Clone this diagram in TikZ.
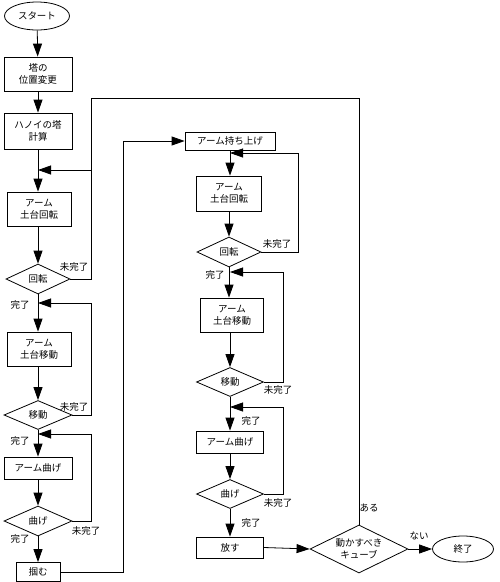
\documentclass[tikz,border=0pt]{standalone}
\usepackage{fontspec}
\setmainfont{Noto Sans CJK JP}
\usetikzlibrary{arrows.meta,shapes.geometric}
\begin{document}
\begin{tikzpicture}[x=1pt,y=1pt,
  every node/.style={font=\fontsize{9.5}{12}\selectfont},
  base/.style={draw,line width=0.8pt,inner sep=0pt,align=center},
  procbox/.style={base,rectangle},
  decision/.style={base,diamond,shape aspect=2},
  terminal/.style={base,ellipse},
  lbl/.style={inner sep=0pt},
  flow/.style={line width=0.8pt,-{Triangle[length=13pt,width=9pt]}},
  line/.style={line width=0.8pt}]
\useasboundingbox (0,0) rectangle (499,-582);
% left column
\node[terminal,minimum width=65pt,minimum height=28pt] (start) at (37,-16) {スタート};
\node[procbox,minimum width=68pt,minimum height=34pt] (b1) at (38,-74) {塔の\\位置変更};
\node[procbox,minimum width=68pt,minimum height=36pt] (b2) at (38,-131) {ハノイの塔\\計算};
\node[procbox,minimum width=64pt,minimum height=34pt] (b3) at (39,-209) {アーム\\土台回転};
\node[decision,minimum width=64pt,minimum height=30pt] (d1) at (38,-279) {回転};
\node[procbox,minimum width=64pt,minimum height=34pt] (b4) at (39,-349) {アーム\\土台移動};
\node[decision,minimum width=68pt,minimum height=29pt] (d2) at (38,-415) {移動};
\node[procbox,minimum width=68pt,minimum height=22pt] (b5) at (38,-468) {アーム曲げ};
\node[decision,minimum width=68pt,minimum height=30pt] (d3) at (38,-521) {曲げ};
\node[procbox,minimum width=44pt,minimum height=19pt] (b6) at (38,-572) {掴む};
% middle column
\node[procbox,minimum width=90pt,minimum height=18pt] (m1) at (230,-141) {アーム持ち上げ};
\node[procbox,minimum width=65pt,minimum height=35pt] (m2) at (229,-193.5) {アーム\\土台回転};
\node[decision,minimum width=64pt,minimum height=30pt] (md1) at (229,-252) {回転};
\node[procbox,minimum width=63pt,minimum height=34pt] (m3) at (232,-315) {アーム\\土台移動};
\node[decision,minimum width=67pt,minimum height=29pt] (md2) at (230,-382) {移動};
\node[procbox,minimum width=67pt,minimum height=22pt] (m4) at (230,-442) {アーム曲げ};
\node[decision,minimum width=67pt,minimum height=29pt] (md3) at (230,-494) {曲げ};
\node[procbox,minimum width=67pt,minimum height=21pt] (m5) at (230,-547.5) {放す};
% right
\node[decision,minimum width=98pt,minimum height=48pt] (dq) at (359,-549) {動かすべき\\キューブ};
\node[terminal,minimum width=61pt,minimum height=26pt] (end) at (463,-549) {終了};
% junction coordinates
\coordinate (j1) at (38,-170);
\coordinate (j2) at (38,-303);
\coordinate (j3) at (38,-434);
\coordinate (k1) at (230,-153);
\coordinate (k2) at (230,-272);
\coordinate (k3) at (230,-407);
\coordinate (r1) at (91,-170);
\coordinate (r1top) at (91,-98);
\coordinate (r2) at (91,-303);
\coordinate (r3) at (91,-434);
\coordinate (g1) at (123,-141);
\coordinate (s1) at (298,-153);
\coordinate (s2) at (283,-272);
\coordinate (s3) at (283,-407);
% main flow
\draw[flow] (start) -- (b1);
\draw[flow] (b1) -- (b2);
\draw[flow] (b2.south) -- (b2.south |- b3.north);
\draw[flow] (d1.north |- b3.south) -- (d1.north);
\draw[flow] (d1.south) -- (d1.south |- b4.north);
\draw[flow] (d2.north |- b4.south) -- (d2.north);
\draw[flow] (d2.south) -- (d2.south |- b5.north);
\draw[flow] (d3.north |- b5.south) -- (d3.north);
\draw[flow] (d3.south) -- (b6.north);
\draw[flow] (b6.east) -| (g1) -- (m1.west);
\draw[flow] (m1.south) -- (m1.south |- m2.north);
\draw[flow] (md1.north |- m2.south) -- (md1.north);
\draw[flow] (md1.south) -- (md1.south |- m3.north);
\draw[flow] (md2.north |- m3.south) -- (md2.north);
\draw[flow] (md2.south) -- (md2.south |- m4.north);
\draw[flow] (md3.north |- m4.south) -- (md3.north);
\draw[flow] (md3.south) -- (m5.north);
\draw[flow] (m5.east) -- (dq.west);
\draw[flow] (dq.east) -- (end.west);
% loops
\draw[flow] (d1.east) -| (r1) -- (j1);
\draw[line] (dq.north) |- (r1top) -- (r1);
\draw[flow] (d2.east) -| (r2) -- (j2);
\draw[flow] (d3.east) -| (r3) -- (j3);
\draw[flow] (md1.east) -| (s1) -- (k1);
\draw[flow] (md2.east) -| (s2) -- (k2);
\draw[flow] (md3.east) -| (s3) -- (k3);
% labels
\node[lbl] (l1) at (74,-267) {未完了};
\node[lbl] (l2) at (20,-305) {完了};
\node[lbl] (l3) at (74,-407) {未完了};
\node[lbl] (l4) at (20,-441) {完了};
\node[lbl] (l5) at (86,-531) {未完了};
\node[lbl] (l6) at (20,-539) {完了};
\node[lbl] (l7) at (277,-244) {未完了};
\node[lbl] (l8) at (215,-275) {完了};
\node[lbl] (l9) at (278,-390) {未完了};
\node[lbl] (l10) at (251,-421) {完了};
\node[lbl] (l11) at (278,-503) {未完了};
\node[lbl] (l12) at (251,-523) {完了};
\node[lbl] (l13) at (369,-508) {ある};
\node[lbl] (l14) at (419,-536) {ない};
\end{tikzpicture}
\end{document}
